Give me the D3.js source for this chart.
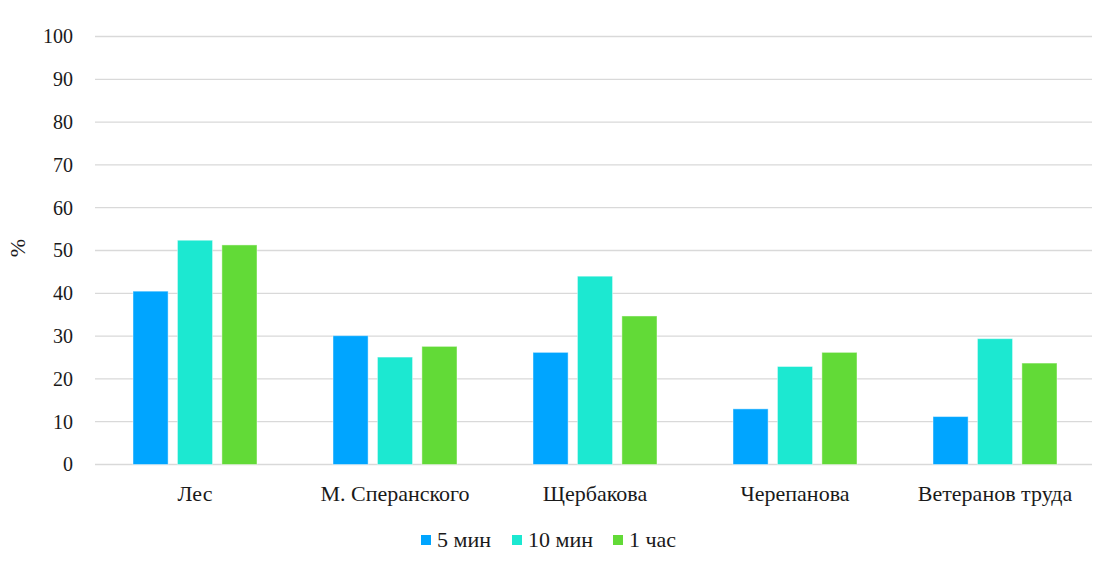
<!DOCTYPE html>
<html>
<head>
<meta charset="utf-8">
<script src="https://cdn.jsdelivr.net/npm/d3@7"></script>
<style>
  html, body { margin: 0; padding: 0; background: #fff; }
</style>
</head>
<body>
<svg id="chart" width="1111" height="564"></svg>
<script>
// Share of samples (%) by site and exposure time
const categories = ["Лес", "М. Сперанского", "Щербакова", "Черепанова", "Ветеранов труда"];
const seriesNames = ["5 мин", "10 мин", "1 час"];
const min5  = [40.5, 30.1, 26.2, 13.0, 11.2];
const min10 = [52.4, 25.1, 44.0, 22.9, 29.4];
const hour1 = [51.3, 27.6, 34.7, 26.2, 23.7];
const yTicks = [0, 10, 20, 30, 40, 50, 60, 70, 80, 90, 100];
const colors = ["#00A5FF", "#1CE8D1", "#62DA37"];

const seriesValues = [min5, min10, hour1];
const FONT = "Liberation Serif";
const TEXT = "#1a1a1a";

const svg = d3.select("#chart");
const margin = { left: 95, right: 16, top: 36.5, bottom: 99.5 };
const W = 1111, H = 564;

const x = d3.scaleBand()
  .domain(categories)
  .range([margin.left, W - margin.right])
  .paddingInner(0.38)
  .paddingOuter(0.19);

const xs = d3.scaleBand()
  .domain(seriesNames)
  .range([0, x.bandwidth()])
  .paddingInner(0.21);

const y = d3.scaleLinear()
  .domain([0, 100])
  .range([H - margin.bottom, margin.top]);

// horizontal gridlines
svg.append("g")
  .selectAll("line")
  .data(yTicks)
  .join("line")
  .attr("x1", margin.left)
  .attr("x2", W - margin.right - 3)
  .attr("y1", d => y(d))
  .attr("y2", d => y(d))
  .attr("stroke", "#d9d9d9")
  .attr("stroke-width", 1.3);

// y axis labels
const yAxis = d3.axisLeft(y).tickValues(yTicks).tickSize(0).tickPadding(22);
const gy = svg.append("g")
  .attr("transform", `translate(${margin.left},0)`)
  .call(yAxis)
  .attr("font-family", FONT)
  .attr("font-size", 20);
gy.select(".domain").remove();
gy.selectAll("text").attr("fill", TEXT);

// y axis title
svg.append("text")
  .attr("transform", `translate(25,248) rotate(-90)`)
  .attr("text-anchor", "middle")
  .attr("font-family", FONT)
  .attr("font-size", 22)
  .attr("fill", TEXT)
  .text("%");

// bars
const groups = svg.append("g")
  .selectAll("g")
  .data(categories)
  .join("g")
  .attr("transform", d => `translate(${x(d)},0)`);

groups.selectAll("rect")
  .data((d, i) => seriesNames.map((s, j) => ({ s, v: seriesValues[j][i], j })))
  .join("rect")
  .attr("x", d => xs(d.s))
  .attr("width", xs.bandwidth())
  .attr("y", d => y(d.v))
  .attr("height", d => y(0) - y(d.v))
  .attr("fill", d => colors[d.j])
  .attr("stroke", "rgba(255,255,255,0.45)")
  .attr("stroke-width", 1);

// x axis category labels
const xAxis = d3.axisBottom(x).tickSize(0).tickPadding(21);
const gx = svg.append("g")
  .attr("transform", `translate(0,${y(0)})`)
  .call(xAxis)
  .attr("font-family", FONT)
  .attr("font-size", 22);
gx.select(".domain").remove();
gx.selectAll("text").attr("fill", TEXT);

// legend
const legendX = [421, 512, 613];
const legend = svg.append("g")
  .attr("font-family", FONT)
  .attr("font-size", 22)
  .selectAll("g")
  .data(seriesNames)
  .join("g")
  .attr("transform", (d, i) => `translate(${legendX[i]},540)`);
legend.append("rect")
  .attr("x", 0).attr("y", -5)
  .attr("width", 10).attr("height", 10)
  .attr("fill", (d, i) => colors[i]);
legend.append("text")
  .attr("x", 16).attr("y", 7)
  .attr("fill", TEXT)
  .text(d => d);
</script>
</body>
</html>
